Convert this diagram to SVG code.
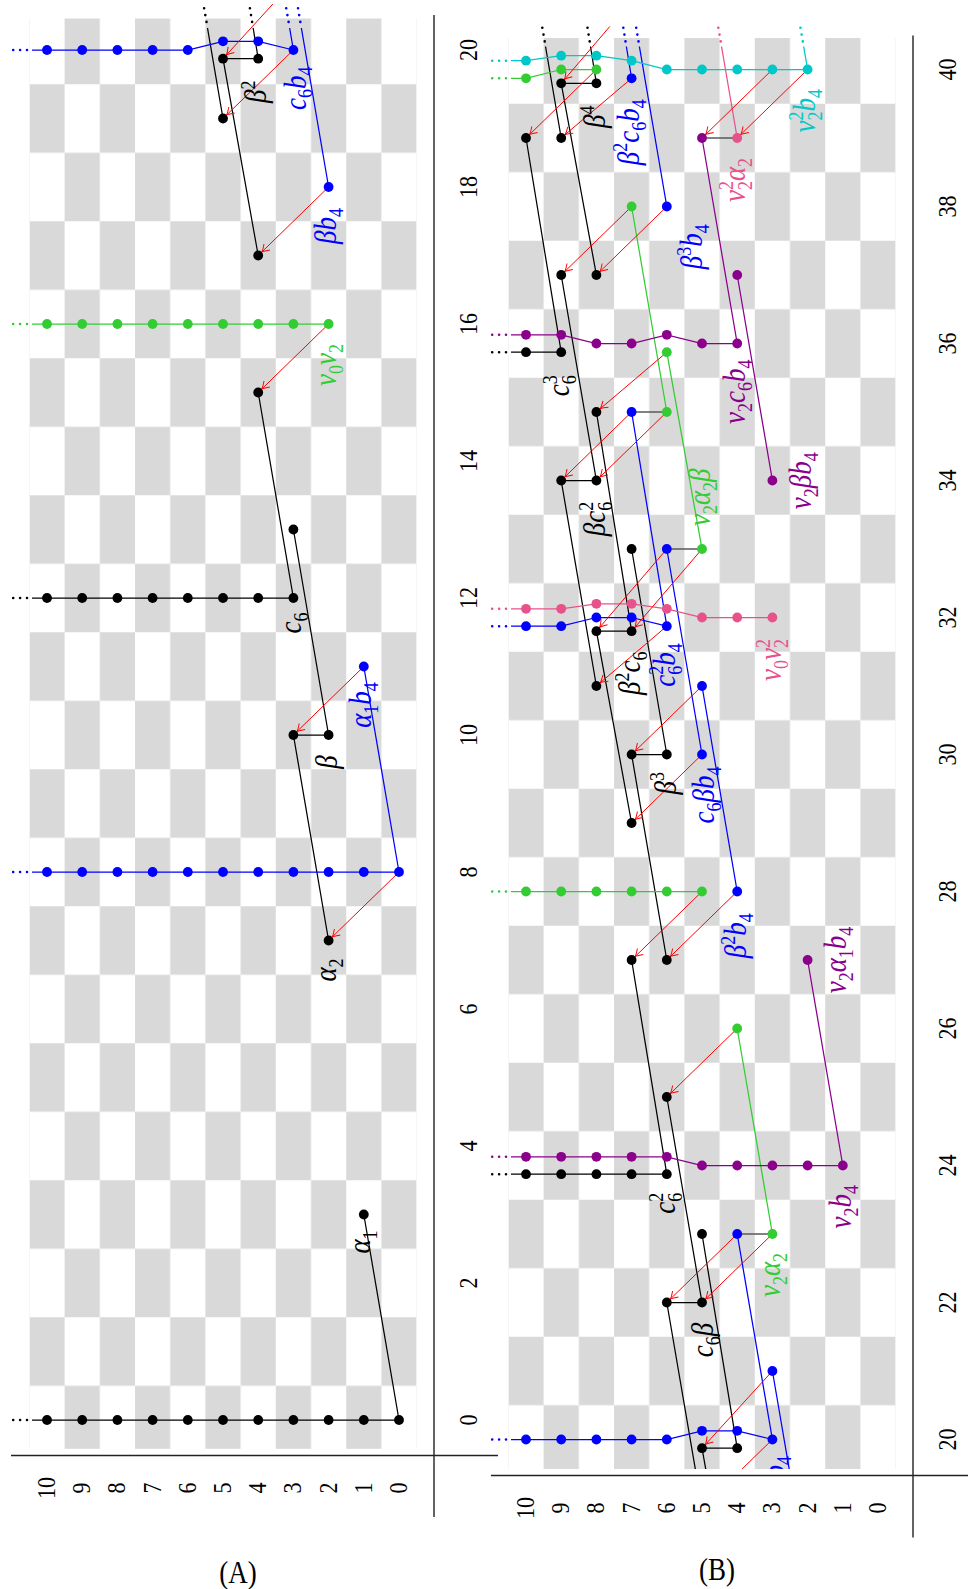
<svg xmlns="http://www.w3.org/2000/svg" width="968" height="1589" viewBox="0 0 968 1589">
<style>
circle{r:4.9px}
.fk{fill:#000}.fb{fill:#0000ff}.fg{fill:#33cc33}.fp{fill:#8b008b}.fq{fill:#e8528a}.fc{fill:#00c8c8}
.l{fill:none;stroke-width:1.25}
.k{stroke:#000}.b{stroke:#0000ff}.g{stroke:#33cc33}.p{stroke:#8b008b}.q{stroke:#e8528a}.c{stroke:#00c8c8}.y{stroke:#5a5a5a;stroke-width:1.6}
.d{fill:none;stroke-width:2.6;stroke-linecap:round;stroke-dasharray:0 6.9}
.r{fill:none;stroke:#ff0000;stroke-width:1;marker-end:url(#ah)}
.ax{font-family:"Liberation Serif",serif;font-size:22px;text-anchor:middle;fill:#000}
.lab{font-family:"Liberation Serif",serif;font-style:italic;font-size:27px;text-anchor:middle}
.sc{font-style:normal;font-size:18px}
.axis{fill:none;stroke:#222;stroke-width:1.4}
</style>
<defs>
<pattern id="chk" patternUnits="userSpaceOnUse" x="-34.25" y="17.6" width="137" height="70.4"><rect width="68.5" height="35.2" fill="#d9d9d9"/><rect x="68.5" y="35.2" width="68.5" height="35.2" fill="#d9d9d9"/></pattern>
<marker id="ah" markerUnits="userSpaceOnUse" orient="auto" refX="5.2" refY="0" markerWidth="10" markerHeight="10" overflow="visible" style="overflow:visible"><path d="M-7,-4.2Q-2.5,-1 0,0Q-2.5,1 -7,4.2" fill="none" stroke="#ff0000" stroke-width="1"/></marker>
<clipPath id="cAL"><rect x="0" y="28" width="440" height="1432"/></clipPath>
<clipPath id="cAR"><rect x="0" y="4" width="440" height="1456"/></clipPath>
<clipPath id="cBL"><rect x="480" y="46.5" width="440" height="1422.5"/></clipPath>
<clipPath id="cBR"><rect x="480" y="26.5" width="440" height="1442.5"/></clipPath>
<clipPath id="cBT"><rect x="480" y="30" width="440" height="1439"/></clipPath>
</defs>
<rect width="968" height="1589" fill="#fff"/>

<!-- ================= CHART A ================= -->
<g id="chartA">
<g transform="translate(399,1420) rotate(-90)"><rect x="-28.8" y="-369.6" width="1430.3" height="387.2" fill="url(#chk)"/></g>
<path class="axis" d="M434,15V1517M11,1455.5H498"/>
<g clip-path="url(#cAL)"><g id="A-connectors" transform="translate(399,1420) rotate(-90)">
<path class="l k" d="M0,0V-367M822,-105.6V-367M685,-70.4V-105.6M1361.3,-176V-140.8M0,0L205.5,-35.2M479.5,-70.4L685,-105.6M685,-70.4L890.5,-105.6M822,-105.6L1027.5,-140.8M1164.5,-140.8L1361.3,-176M1301.5,-176L1507,-211.2M1361.3,-140.8L1575.5,-176"/>
<path class="l b" d="M548,0V-367M1370,-367V-211.2L1378.7,-176V-140.8L1370,-105.6M548,0L753.5,-35.2M1233,-70.4L1438.5,-105.6M1370,-105.6L1575.5,-140.8"/>
<path class="l g" d="M1096,-70.4V-367"/>
</g></g>
<g id="A-continuations" transform="translate(399,1420) rotate(-90)">
<path class="d k" d="M0,-372V-386"/><path class="d k" d="M822,-372V-386"/>
<path class="d b" d="M548,-372V-386"/><path class="d b" d="M1370,-372V-386"/>
<path class="d g" d="M1096,-372V-386"/>
<path class="d k" d="M1398.1,-192.5L1411.8,-194.9"/><path class="d k" d="M1398.1,-146.9L1411.8,-149.1"/>
<path class="d b" d="M1398.1,-98.7L1411.8,-101"/><path class="d b" d="M1398.1,-110.4L1411.8,-112.8"/>
</g>
<g clip-path="url(#cAR)"><g id="A-differentials" transform="translate(399,1420) rotate(-90)">
<path class="r" d="M548,0L479.5,-70.4"/>
<path class="r" d="M753.5,-35.2L685,-105.6"/>
<path class="r" d="M1096,-70.4L1027.5,-140.8"/>
<path class="r" d="M1233,-70.4L1164.5,-140.8"/>
<path class="r" d="M1370,-105.6L1301.5,-176"/>
<path class="r" d="M1438.5,-105.6L1361.3,-176"/>
</g></g>
<g id="A-nodes" transform="translate(399,1420) rotate(-90)">
<g id="A-one" class="fk"><circle cx="0" cy="0"/><circle cx="0" cy="-35.2"/><circle cx="0" cy="-70.4"/><circle cx="0" cy="-105.6"/><circle cx="0" cy="-140.8"/><circle cx="0" cy="-176"/><circle cx="0" cy="-211.2"/><circle cx="0" cy="-246.4"/><circle cx="0" cy="-281.6"/><circle cx="0" cy="-316.8"/><circle cx="0" cy="-352"/></g>
<g id="A-alpha1" class="fk"><circle cx="205.5" cy="-35.2"/><text class="lab" transform="matrix(1 0 0 1.15 178 -37)" y="7">α<tspan class="sc" dy="6">1</tspan></text></g>
<g id="A-alpha2" class="fk"><circle cx="479.5" cy="-70.4"/><text class="lab" transform="matrix(1 0 0 1.15 450 -71)" y="7">α<tspan class="sc" dy="6">2</tspan></text></g>
<g id="A-beta" class="fk"><circle cx="685" cy="-70.4"/><circle cx="685" cy="-105.6"/><text class="lab" transform="matrix(1 0 0 1.15 658 -70)" y="7">β</text></g>
<g id="A-b4" class="fb"><circle cx="548" cy="0"/><circle cx="548" cy="-35.2"/><circle cx="548" cy="-70.4"/><circle cx="548" cy="-105.6"/><circle cx="548" cy="-140.8"/><circle cx="548" cy="-176"/><circle cx="548" cy="-211.2"/><circle cx="548" cy="-246.4"/><circle cx="548" cy="-281.6"/><circle cx="548" cy="-316.8"/><circle cx="548" cy="-352"/></g>
<g id="A-alpha1b4" class="fb"><circle cx="753.5" cy="-35.2"/><text class="lab" transform="matrix(1 0 0 1.15 715 -35.7)" y="7">α<tspan class="sc" dy="6">1</tspan><tspan dy="-6">b</tspan><tspan class="sc" dy="6">4</tspan></text></g>
<g id="A-c6" class="fk"><circle cx="822" cy="-105.6"/><circle cx="822" cy="-140.8"/><circle cx="822" cy="-176"/><circle cx="822" cy="-211.2"/><circle cx="822" cy="-246.4"/><circle cx="822" cy="-281.6"/><circle cx="822" cy="-316.8"/><circle cx="822" cy="-352"/><text class="lab" transform="matrix(1 0 0 1.15 797 -106.3)" y="7">c<tspan class="sc" dy="6">6</tspan></text></g>
<g id="A-13-3" class="fk"><circle cx="890.5" cy="-105.6"/></g>
<g id="A-15-4" class="fk"><circle cx="1027.5" cy="-140.8"/></g>
<g id="A-v0v2" class="fg"><circle cx="1096" cy="-70.4"/><circle cx="1096" cy="-105.6"/><circle cx="1096" cy="-140.8"/><circle cx="1096" cy="-176"/><circle cx="1096" cy="-211.2"/><circle cx="1096" cy="-246.4"/><circle cx="1096" cy="-281.6"/><circle cx="1096" cy="-316.8"/><circle cx="1096" cy="-352"/><text class="lab" transform="matrix(1 0 0 1.15 1055 -70.7)" y="7">v<tspan class="sc" dy="6">0</tspan><tspan dy="-6">v</tspan><tspan class="sc" dy="6">2</tspan></text></g>
<g id="A-17-4" class="fk"><circle cx="1164.5" cy="-140.8"/></g>
<g id="A-betab4" class="fb"><circle cx="1233" cy="-70.4"/><text class="lab" transform="matrix(1 0 0 1.15 1194 -70.7)" y="7">βb<tspan class="sc" dy="6">4</tspan></text></g>
<g id="A-19-5" class="fk"><circle cx="1301.5" cy="-176"/></g>
<g id="A-c6b4" class="fb"><circle cx="1370" cy="-352"/><circle cx="1370" cy="-316.8"/><circle cx="1370" cy="-281.6"/><circle cx="1370" cy="-246.4"/><circle cx="1370" cy="-211.2"/><circle cx="1378.7" cy="-176"/><circle cx="1378.7" cy="-140.8"/><circle cx="1370" cy="-105.6"/><text class="lab" transform="matrix(1 0 0 1.15 1331.7 -101.5)" y="7">c<tspan class="sc" dy="6">6</tspan><tspan dy="-6">b</tspan><tspan class="sc" dy="6">4</tspan></text></g>
<g id="A-beta2" class="fk"><circle cx="1361.3" cy="-176"/><circle cx="1361.3" cy="-140.8"/><text class="lab" transform="matrix(1 0 0 1.15 1328.3 -140.7)" y="7">β<tspan class="sc" dy="-10">2</tspan></text></g>
</g>
<g id="A-axis-labels" transform="translate(399,1420) rotate(-90)">
<text class="ax" transform="matrix(1 0 0 1.15 0 70)" y="7">0</text>
<text class="ax" transform="matrix(1 0 0 1.15 137 70)" y="7">2</text>
<text class="ax" transform="matrix(1 0 0 1.15 274 70)" y="7">4</text>
<text class="ax" transform="matrix(1 0 0 1.15 411 70)" y="7">6</text>
<text class="ax" transform="matrix(1 0 0 1.15 548 70)" y="7">8</text>
<text class="ax" transform="matrix(1 0 0 1.15 685 70)" y="7">10</text>
<text class="ax" transform="matrix(1 0 0 1.15 822 70)" y="7">12</text>
<text class="ax" transform="matrix(1 0 0 1.15 959 70)" y="7">14</text>
<text class="ax" transform="matrix(1 0 0 1.15 1096 70)" y="7">16</text>
<text class="ax" transform="matrix(1 0 0 1.15 1233 70)" y="7">18</text>
<text class="ax" transform="matrix(1 0 0 1.15 1370 70)" y="7">20</text>
<text class="ax" transform="matrix(1 0 0 1.15 -68 0)" y="7">0</text>
<text class="ax" transform="matrix(1 0 0 1.15 -68 -35.2)" y="7">1</text>
<text class="ax" transform="matrix(1 0 0 1.15 -68 -70.4)" y="7">2</text>
<text class="ax" transform="matrix(1 0 0 1.15 -68 -105.6)" y="7">3</text>
<text class="ax" transform="matrix(1 0 0 1.15 -68 -140.8)" y="7">4</text>
<text class="ax" transform="matrix(1 0 0 1.15 -68 -176)" y="7">5</text>
<text class="ax" transform="matrix(1 0 0 1.15 -68 -211.2)" y="7">6</text>
<text class="ax" transform="matrix(1 0 0 1.15 -68 -246.4)" y="7">7</text>
<text class="ax" transform="matrix(1 0 0 1.15 -68 -281.6)" y="7">8</text>
<text class="ax" transform="matrix(1 0 0 1.15 -68 -316.8)" y="7">9</text>
<text class="ax" transform="matrix(1 0 0 1.15 -68 -352)" y="7">10</text>
</g>
<text class="ax" style="font-size:27px" transform="matrix(1 0 0 1.15 238 1573)" y="9">(A)</text>
</g>

<!-- ================= CHART B ================= -->
<g id="chartB">
<g transform="translate(878,2809.5) rotate(-90)"><rect x="1340.5" y="-369.6" width="1431" height="387.2" fill="url(#chk)"/></g>
<path class="axis" d="M913,35.5V1537.5M491,1475.5H968"/>
<g clip-path="url(#cBL)"><g id="B-connectors" transform="translate(878,2809.5) rotate(-90)">
<path class="l k" d="M1635.3,-211.2V-367M2178.3,-281.6V-246.4M2457.3,-316.8V-367M2726.2,-316.8V-281.6M1361.3,-176V-140.8M1507,-211.2V-176M2055,-246.4V-211.2M2329,-316.8V-281.6M1164.5,-140.8L1361.3,-176M1301.5,-176L1507,-211.2M1361.3,-140.8L1575.5,-176M1507,-176L1712.5,-211.2M1635.3,-211.2L1849.5,-246.4M1849.5,-211.2L2055,-246.4M1986.5,-246.4L2178.3,-281.6M2055,-211.2L2260.5,-246.4M2123.5,-281.6L2329,-316.8M2178.3,-246.4L2397.5,-281.6M2329,-281.6L2534.5,-316.8M2457.3,-316.8L2671.5,-352M2534.5,-281.6L2726.2,-316.8M2671.5,-316.8L2877,-352M2726.2,-281.6L2945.5,-316.8"/>
<path class="l b" d="M1370,-367V-211.2L1378.7,-176V-140.8L1370,-105.6M2183.3,-367V-316.8L2192,-281.6V-246.4L2183.3,-211.2M1233,-70.4L1438.5,-105.6M1370,-105.6L1575.5,-140.8M1918,-140.8L2123.5,-176M2055,-176L2260.5,-211.2M2183.3,-211.2L2397.5,-246.4M2603,-211.2L2808.5,-246.4M2731.2,-246.4L2945.5,-281.6"/>
<path class="l g" d="M1918,-176V-367M2731.2,-367V-352L2740,-316.8V-281.6M1575.5,-105.6L1781,-140.8M2260.5,-176L2457.3,-211.2M2397.5,-211.2L2603,-246.4"/>
<path class="l p" d="M1652.7,-367V-211.2L1644,-176V-35.2M2474.7,-367V-316.8L2466,-281.6V-246.4L2474.7,-211.2L2466,-176V-140.8M1644,-35.2L1849.5,-70.4M2329,-105.6L2534.5,-140.8M2466,-140.8L2671.5,-176"/>
<path class="l q" d="M2200.7,-367V-316.8L2205.7,-281.6V-246.4L2200.7,-211.2L2192,-176V-105.6M2671.5,-140.8L2877,-176"/>
<path class="l c" d="M2748.8,-367V-352L2753.8,-316.8V-281.6L2748.8,-246.4L2740,-211.2V-70.4M2740,-70.4L2945.5,-105.6"/>
<path class="l y" d="M1575.5,-140.8V-105.6M2260.5,-211.2V-176M2397.5,-246.4V-211.2M2671.5,-176V-140.8"/>
</g></g>
<g id="B-continuations" transform="translate(878,2809.5) rotate(-90)">
<path class="d b" d="M1370,-372V-386"/>
<path class="d k" d="M1635.3,-372V-386"/><path class="d p" d="M1652.7,-372V-386"/>
<path class="d g" d="M1918,-372V-386"/>
<path class="d q" d="M2200.7,-372V-386"/><path class="d b" d="M2183.3,-372V-386"/>
<path class="d k" d="M2457.3,-372V-386"/><path class="d p" d="M2474.7,-372V-386"/>
<path class="d c" d="M2748.8,-372V-386"/><path class="d g" d="M2731.2,-372V-386"/>
<path class="d k" d="M2768.1,-333.3L2781.8,-335.7"/><path class="d k" d="M2768.1,-288.3L2781.8,-290.5"/>
<path class="d b" d="M2768.1,-239.5L2781.8,-241.8"/><path class="d b" d="M2768.1,-252.5L2781.8,-254.7"/>
<path class="d q" d="M2768.1,-157.3L2781.8,-159.7"/><path class="d c" d="M2768.1,-75.2L2781.8,-77.6"/>
</g>
<g clip-path="url(#cBR)"><g id="B-differentials" transform="translate(878,2809.5) rotate(-90)">
<path class="r" d="M1370,-105.6L1301.5,-176"/>
<path class="r" d="M1438.5,-105.6L1361.3,-176"/>
<path class="r" d="M1575.5,-140.8L1507,-211.2"/>
<path class="r" d="M1575.5,-105.6L1507,-176"/>
<path class="r" d="M1781,-140.8L1712.5,-211.2"/>
<path class="r" d="M1918,-176L1849.5,-246.4"/>
<path class="r" d="M1918,-140.8L1849.5,-211.2"/>
<path class="r" d="M2123.5,-176L2055,-246.4"/>
<path class="r" d="M2055,-176L1986.5,-246.4"/>
<path class="r" d="M2183.3,-211.2L2123.5,-281.6"/>
<path class="r" d="M2260.5,-211.2L2178.3,-281.6"/>
<path class="r" d="M2260.5,-176L2178.3,-246.4"/>
<path class="r" d="M2397.5,-246.4L2329,-316.8"/>
<path class="r" d="M2397.5,-211.2L2329,-281.6"/>
<path class="r" d="M2457.3,-211.2L2397.5,-281.6"/>
<path class="r" d="M2603,-246.4L2534.5,-316.8"/>
<path class="r" d="M2603,-211.2L2534.5,-281.6"/>
<path class="r" d="M2740,-281.6L2671.5,-352"/>
<path class="r" d="M2731.2,-246.4L2671.5,-316.8"/>
<path class="r" d="M2808.5,-246.4L2726.2,-316.8"/>
<path class="r" d="M2740,-105.6L2671.5,-176"/>
<path class="r" d="M2740,-70.4L2671.5,-140.8"/>
</g></g>
<g clip-path="url(#cBT)"><g id="B-clipped-labels" transform="translate(878,2809.5) rotate(-90)">
<text class="lab fb" transform="matrix(1 0 0 1.15 1331.7 -101.5)" y="7">c<tspan class="sc" dy="6">6</tspan><tspan dy="-6">b</tspan><tspan class="sc" dy="6">4</tspan></text>
<text class="lab fk" transform="matrix(1 0 0 1.15 1328.3 -140.7)" y="7">β<tspan class="sc" dy="-10">2</tspan></text>
</g></g>
<g id="B-nodes" transform="translate(878,2809.5) rotate(-90)">
<g id="B-c6b4" class="fb"><circle cx="1370" cy="-352"/><circle cx="1370" cy="-316.8"/><circle cx="1370" cy="-281.6"/><circle cx="1370" cy="-246.4"/><circle cx="1370" cy="-211.2"/><circle cx="1378.7" cy="-176"/><circle cx="1378.7" cy="-140.8"/><circle cx="1370" cy="-105.6"/></g>
<g id="B-beta2" class="fk"><circle cx="1361.3" cy="-176"/><circle cx="1361.3" cy="-140.8"/></g>
<g id="B-21-3" class="fb"><circle cx="1438.5" cy="-105.6"/></g>
<g id="B-c6beta" class="fk"><circle cx="1507" cy="-211.2"/><circle cx="1507" cy="-176"/><text class="lab" transform="matrix(1 0 0 1.15 1469.5 -173)" y="7">c<tspan class="sc" dy="6">6</tspan><tspan dy="-6">β</tspan></text></g>
<g id="B-23-5" class="fk"><circle cx="1575.5" cy="-176"/></g>
<g id="B-23-4" class="fb"><circle cx="1575.5" cy="-140.8"/></g>
<g id="B-v2alpha2" class="fg"><circle cx="1575.5" cy="-105.6"/><text class="lab" transform="matrix(1 0 0 1.15 1534.5 -106.3)" y="7">v<tspan class="sc" dy="6">2</tspan><tspan dy="-6">α</tspan><tspan class="sc" dy="6">2</tspan></text></g>
<g id="B-c6sq" class="fk"><circle cx="1635.3" cy="-352"/><circle cx="1635.3" cy="-316.8"/><circle cx="1635.3" cy="-281.6"/><circle cx="1635.3" cy="-246.4"/><circle cx="1635.3" cy="-211.2"/><text class="lab" transform="matrix(1 0 0 1.15 1606.2 -211.3)" y="7">c<tspan class="sc" dy="-10">2</tspan><tspan class="sc" dx="-9" dy="16">6</tspan></text></g>
<g id="B-v2b4" class="fp"><circle cx="1652.7" cy="-352"/><circle cx="1652.7" cy="-316.8"/><circle cx="1652.7" cy="-281.6"/><circle cx="1652.7" cy="-246.4"/><circle cx="1652.7" cy="-211.2"/><circle cx="1644" cy="-176"/><circle cx="1644" cy="-140.8"/><circle cx="1644" cy="-105.6"/><circle cx="1644" cy="-70.4"/><circle cx="1644" cy="-35.2"/><text class="lab" transform="matrix(1 0 0 1.15 1602.8 -35.3)" y="7">v<tspan class="sc" dy="6">2</tspan><tspan dy="-6">b</tspan><tspan class="sc" dy="6">4</tspan></text></g>
<g id="B-25-6" class="fk"><circle cx="1712.5" cy="-211.2"/></g>
<g id="B-26-4" class="fg"><circle cx="1781" cy="-140.8"/></g>
<g id="B-27" class="fk"><circle cx="1849.5" cy="-246.4"/><circle cx="1849.5" cy="-211.2"/></g>
<g id="B-v2alpha1b4" class="fp"><circle cx="1849.5" cy="-70.4"/><text class="lab" transform="matrix(1 0 0 1.15 1849.5 -39.7)" y="7">v<tspan class="sc" dy="6">2</tspan><tspan dy="-6">α</tspan><tspan class="sc" dy="6">1</tspan><tspan dy="-6">b</tspan><tspan class="sc" dy="6">4</tspan></text></g>
<g id="B-28" class="fg"><circle cx="1918" cy="-352"/><circle cx="1918" cy="-316.8"/><circle cx="1918" cy="-281.6"/><circle cx="1918" cy="-246.4"/><circle cx="1918" cy="-211.2"/><circle cx="1918" cy="-176"/></g>
<g id="B-beta2b4" class="fb"><circle cx="1918" cy="-140.8"/><text class="lab" transform="matrix(1 0 0 1.15 1873.8 -139.7)" y="7">β<tspan class="sc" dy="-10">2</tspan><tspan dy="10">b</tspan><tspan class="sc" dy="6">4</tspan></text></g>
<g id="B-29-7" class="fk"><circle cx="1986.5" cy="-246.4"/></g>
<g id="B-beta3" class="fk"><circle cx="2055" cy="-246.4"/><circle cx="2055" cy="-211.2"/><text class="lab" transform="matrix(1 0 0 1.15 2026.2 -210.3)" y="7">β<tspan class="sc" dy="-10">3</tspan></text></g>
<g id="B-c6betab4" class="fb"><circle cx="2055" cy="-176"/><text class="lab" transform="matrix(1 0 0 1.15 2014.5 -172)" y="7">c<tspan class="sc" dy="6">6</tspan><tspan dy="-6">βb</tspan><tspan class="sc" dy="6">4</tspan></text></g>
<g id="B-31-8" class="fk"><circle cx="2123.5" cy="-281.6"/></g>
<g id="B-31-5" class="fb"><circle cx="2123.5" cy="-176"/></g>
<g id="B-v0v2sq" class="fq"><circle cx="2200.7" cy="-352"/><circle cx="2200.7" cy="-316.8"/><circle cx="2205.7" cy="-281.6"/><circle cx="2205.7" cy="-246.4"/><circle cx="2200.7" cy="-211.2"/><circle cx="2192" cy="-176"/><circle cx="2192" cy="-140.8"/><circle cx="2192" cy="-105.6"/><text class="lab" transform="matrix(1 0 0 1.15 2149.5 -104.7)" y="7">v<tspan class="sc" dy="6">0</tspan><tspan dy="-6">v</tspan><tspan class="sc" dy="-10">2</tspan><tspan class="sc" dx="-9" dy="16">2</tspan></text></g>
<g id="B-c6sqb4" class="fb"><circle cx="2183.3" cy="-352"/><circle cx="2183.3" cy="-316.8"/><circle cx="2192" cy="-281.6"/><circle cx="2192" cy="-246.4"/><circle cx="2183.3" cy="-211.2"/><text class="lab" transform="matrix(1 0 0 1.15 2144.5 -211.3)" y="7">c<tspan class="sc" dy="-10">2</tspan><tspan class="sc" dx="-9" dy="16">6</tspan><tspan dy="-6">b</tspan><tspan class="sc" dy="6">4</tspan></text></g>
<g id="B-beta2c6" class="fk"><circle cx="2178.3" cy="-281.6"/><circle cx="2178.3" cy="-246.4"/><text class="lab" transform="matrix(1 0 0 1.15 2136.2 -245.7)" y="7">β<tspan class="sc" dy="-10">2</tspan><tspan dy="10">c</tspan><tspan class="sc" dy="6">6</tspan></text></g>
<g id="B-33-7" class="fk"><circle cx="2260.5" cy="-246.4"/></g>
<g id="B-33-6" class="fb"><circle cx="2260.5" cy="-211.2"/></g>
<g id="B-v2alpha2beta" class="fg"><circle cx="2260.5" cy="-176"/><text class="lab" transform="matrix(1 0 0 1.15 2312.2 -175.7)" y="7">v<tspan class="sc" dy="6">2</tspan><tspan dy="-6">α</tspan><tspan class="sc" dy="6">2</tspan><tspan dy="-6">β</tspan></text></g>
<g id="B-betac6sq" class="fk"><circle cx="2329" cy="-316.8"/><circle cx="2329" cy="-281.6"/><text class="lab" transform="matrix(1 0 0 1.15 2290.5 -281.3)" y="7">βc<tspan class="sc" dy="-10">2</tspan><tspan class="sc" dx="-9" dy="16">6</tspan></text></g>
<g id="B-v2betab4" class="fp"><circle cx="2329" cy="-105.6"/><text class="lab" transform="matrix(1 0 0 1.15 2328.8 -74.7)" y="7">v<tspan class="sc" dy="6">2</tspan><tspan dy="-6">βb</tspan><tspan class="sc" dy="6">4</tspan></text></g>
<g id="B-35-8" class="fk"><circle cx="2397.5" cy="-281.6"/></g>
<g id="B-35-7" class="fb"><circle cx="2397.5" cy="-246.4"/></g>
<g id="B-35-6" class="fg"><circle cx="2397.5" cy="-211.2"/></g>
<g id="B-c6cube" class="fk"><circle cx="2457.3" cy="-352"/><circle cx="2457.3" cy="-316.8"/><text class="lab" transform="matrix(1 0 0 1.15 2423.8 -317.3)" y="7">c<tspan class="sc" dy="-10">3</tspan><tspan class="sc" dx="-9" dy="16">6</tspan></text></g>
<g id="B-v2c6b4" class="fp"><circle cx="2474.7" cy="-352"/><circle cx="2474.7" cy="-316.8"/><circle cx="2466" cy="-281.6"/><circle cx="2466" cy="-246.4"/><circle cx="2474.7" cy="-211.2"/><circle cx="2466" cy="-176"/><circle cx="2466" cy="-140.8"/><text class="lab" transform="matrix(1 0 0 1.15 2417.8 -141.3)" y="7">v<tspan class="sc" dy="6">2</tspan><tspan dy="-6">c</tspan><tspan class="sc" dy="6">6</tspan><tspan dy="-6">b</tspan><tspan class="sc" dy="6">4</tspan></text></g>
<g id="B-36-6" class="fg"><circle cx="2457.3" cy="-211.2"/></g>
<g id="B-37" class="fk"><circle cx="2534.5" cy="-316.8"/><circle cx="2534.5" cy="-281.6"/></g>
<g id="B-37-4" class="fp"><circle cx="2534.5" cy="-140.8"/></g>
<g id="B-38-7" class="fg"><circle cx="2603" cy="-246.4"/></g>
<g id="B-beta3b4" class="fb"><circle cx="2603" cy="-211.2"/><text class="lab" transform="matrix(1 0 0 1.15 2562.8 -184)" y="7">β<tspan class="sc" dy="-10">3</tspan><tspan dy="10">b</tspan><tspan class="sc" dy="6">4</tspan></text></g>
<g id="B-39" class="fk"><circle cx="2671.5" cy="-352"/><circle cx="2671.5" cy="-316.8"/></g>
<g id="B-39-5" class="fp"><circle cx="2671.5" cy="-176"/></g>
<g id="B-v2sqalpha2" class="fq"><circle cx="2671.5" cy="-140.8"/><text class="lab" transform="matrix(1 0 0 1.15 2629.5 -141.3)" y="7">v<tspan class="sc" dy="-10">2</tspan><tspan class="sc" dx="-9" dy="16">2</tspan><tspan dy="-6">α</tspan><tspan class="sc" dy="6">2</tspan></text></g>
<g id="B-v2sqb4" class="fc"><circle cx="2748.8" cy="-352"/><circle cx="2753.8" cy="-316.8"/><circle cx="2753.8" cy="-281.6"/><circle cx="2748.8" cy="-246.4"/><circle cx="2740" cy="-211.2"/><circle cx="2740" cy="-176"/><circle cx="2740" cy="-140.8"/><circle cx="2740" cy="-105.6"/><circle cx="2740" cy="-70.4"/><text class="lab" transform="matrix(1 0 0 1.15 2698.8 -71.3)" y="7">v<tspan class="sc" dy="-10">2</tspan><tspan class="sc" dx="-9" dy="16">2</tspan><tspan dy="-6">b</tspan><tspan class="sc" dy="6">4</tspan></text></g>
<g id="B-40g" class="fg"><circle cx="2731.2" cy="-352"/><circle cx="2740" cy="-316.8"/><circle cx="2740" cy="-281.6"/></g>
<g id="B-beta4" class="fk"><circle cx="2726.2" cy="-316.8"/><circle cx="2726.2" cy="-281.6"/><text class="lab" transform="matrix(1 0 0 1.15 2692.8 -280.7)" y="7">β<tspan class="sc" dy="-10">4</tspan></text></g>
<g id="B-beta2c6b4" class="fb"><circle cx="2731.2" cy="-246.4"/><text class="lab" transform="matrix(1 0 0 1.15 2677.2 -247.3)" y="7">β<tspan class="sc" dy="-10">2</tspan><tspan dy="10">c</tspan><tspan class="sc" dy="6">6</tspan><tspan dy="-6">b</tspan><tspan class="sc" dy="6">4</tspan></text></g>
</g>
<g id="B-axis-labels" transform="translate(878,2809.5) rotate(-90)">
<text class="ax" transform="matrix(1 0 0 1.15 1370 70.3)" y="7">20</text>
<text class="ax" transform="matrix(1 0 0 1.15 1507 70.3)" y="7">22</text>
<text class="ax" transform="matrix(1 0 0 1.15 1644 70.3)" y="7">24</text>
<text class="ax" transform="matrix(1 0 0 1.15 1781 70.3)" y="7">26</text>
<text class="ax" transform="matrix(1 0 0 1.15 1918 70.3)" y="7">28</text>
<text class="ax" transform="matrix(1 0 0 1.15 2055 70.3)" y="7">30</text>
<text class="ax" transform="matrix(1 0 0 1.15 2192 70.3)" y="7">32</text>
<text class="ax" transform="matrix(1 0 0 1.15 2329 70.3)" y="7">34</text>
<text class="ax" transform="matrix(1 0 0 1.15 2466 70.3)" y="7">36</text>
<text class="ax" transform="matrix(1 0 0 1.15 2603 70.3)" y="7">38</text>
<text class="ax" transform="matrix(1 0 0 1.15 2740 70.3)" y="7">40</text>
<text class="ax" transform="matrix(1 0 0 1.15 1301.5 0)" y="7">0</text>
<text class="ax" transform="matrix(1 0 0 1.15 1301.5 -35.2)" y="7">1</text>
<text class="ax" transform="matrix(1 0 0 1.15 1301.5 -70.4)" y="7">2</text>
<text class="ax" transform="matrix(1 0 0 1.15 1301.5 -105.6)" y="7">3</text>
<text class="ax" transform="matrix(1 0 0 1.15 1301.5 -140.8)" y="7">4</text>
<text class="ax" transform="matrix(1 0 0 1.15 1301.5 -176)" y="7">5</text>
<text class="ax" transform="matrix(1 0 0 1.15 1301.5 -211.2)" y="7">6</text>
<text class="ax" transform="matrix(1 0 0 1.15 1301.5 -246.4)" y="7">7</text>
<text class="ax" transform="matrix(1 0 0 1.15 1301.5 -281.6)" y="7">8</text>
<text class="ax" transform="matrix(1 0 0 1.15 1301.5 -316.8)" y="7">9</text>
<text class="ax" transform="matrix(1 0 0 1.15 1301.5 -352)" y="7">10</text>
</g>
<text class="ax" style="font-size:27px" transform="matrix(1 0 0 1.15 717 1570)" y="9">(B)</text>
</g>
</svg>
